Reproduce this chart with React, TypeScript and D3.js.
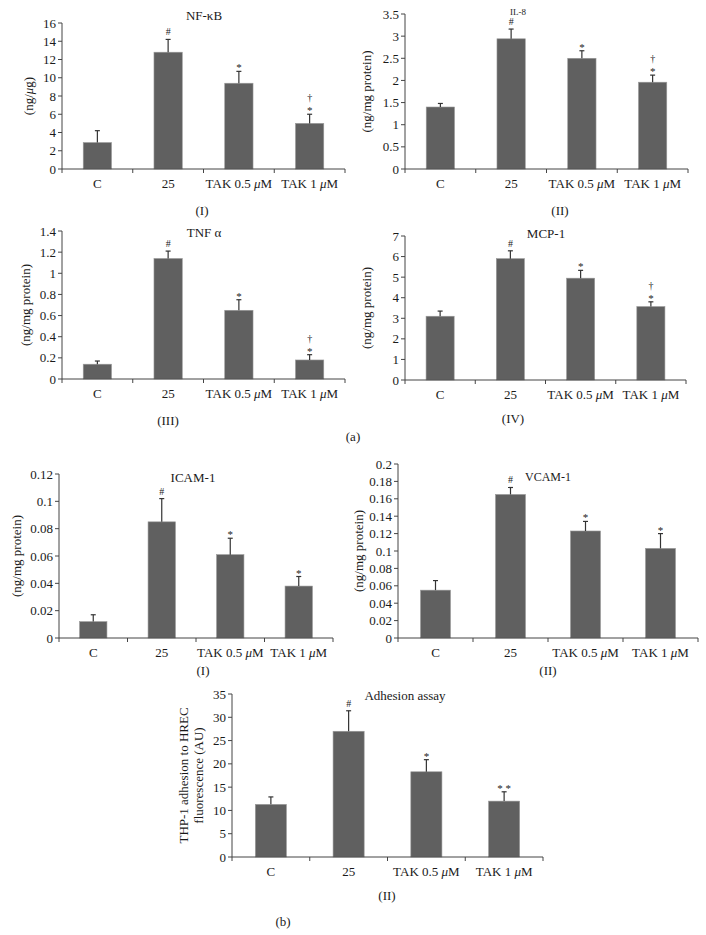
import React from "react";
import * as d3 from "d3";

const categories = ["C", "25", "TAK 0.5 μM", "TAK 1 μM"];

const nfkbMean = [2.9, 12.8, 9.4, 5.0];
const nfkbErr = [1.3, 1.4, 1.3, 1.0];
const nfkbMarks = ["", "#", "*", "†*"];

const il8Mean = [1.4, 2.94, 2.5, 1.96];
const il8Err = [0.08, 0.22, 0.17, 0.16];
const il8Marks = ["", "#", "*", "†*"];

const tnfMean = [0.14, 1.14, 0.65, 0.18];
const tnfErr = [0.03, 0.07, 0.1, 0.05];
const tnfMarks = ["", "#", "*", "†*"];

const mcpMean = [3.1, 5.9, 4.95, 3.57];
const mcpErr = [0.25, 0.38, 0.38, 0.23];
const mcpMarks = ["", "#", "*", "†*"];

const icamMean = [0.012, 0.085, 0.061, 0.038];
const icamErr = [0.005, 0.017, 0.012, 0.007];
const icamMarks = ["", "#", "*", "*"];

const vcamMean = [0.055, 0.165, 0.123, 0.103];
const vcamErr = [0.011, 0.008, 0.011, 0.017];
const vcamMarks = ["", "#", "*", "*"];

const adhMean = [11.3, 27.0, 18.3, 12.0];
const adhErr = [1.6, 4.4, 2.6, 2.0];
const adhMarks = ["", "#", "*", "**"];

const FONT = "'Liberation Serif', 'Times New Roman', serif";
const BAR = "#606060";
const INK = "#1a1a1a";
const AXIS = "#444";
const fmt = d3.format("~g");

type PanelProps = {
  left: number; top: number; right: number; bottom: number;
  yMax: number; tickCount: number;
  means: number[]; errs: number[]; marks: string[];
  title: string; titleX: number; titleY: number; titleSize?: number;
  yLabel: string[]; yLabelX: number[];
};

function MuText({ text }: { text: string }) {
  if (!text.includes("μ")) return <>{text}</>;
  const [a, b] = text.split("μ");
  return <>{a}<tspan fontStyle="italic">μ</tspan>{b}</>;
}

function Panel(p: PanelProps) {
  const x = d3.scaleBand<string>().domain(categories).range([p.left, p.right]);
  const y = d3.scaleLinear().domain([0, p.yMax]).range([p.bottom, p.top]);
  const ticks = y.ticks(p.tickCount);
  const bw = x.step() * 0.4;
  const boundaries = d3.range(categories.length + 1).map((i) => p.left + i * x.step());
  const midY = (p.top + p.bottom) / 2;
  return (
    <g>
      {categories.map((c, i) => {
        const cx = (x(c) as number) + x.bandwidth() / 2;
        const capY = y(p.means[i] + p.errs[i]);
        const m = p.marks[i];
        return (
          <g key={c}>
            <rect x={cx - bw / 2} y={y(p.means[i])} width={bw} height={p.bottom - y(p.means[i])} fill={BAR} stroke="#9a9a9a" strokeWidth={0.6} />
            <line x1={cx} x2={cx} y1={y(p.means[i])} y2={capY} stroke="#333" strokeWidth={1.2} />
            <line x1={cx - 2.5} x2={cx + 2.5} y1={capY} y2={capY} stroke="#333" strokeWidth={1.2} />
            {m === "#" && (
              <text x={cx} y={capY - 4} textAnchor="middle" fontSize={10} fontFamily={FONT} fill={INK}>#</text>
            )}
            {m === "*" && (
              <text x={cx} y={capY} textAnchor="middle" fontSize={11} fontFamily={FONT} fill={INK}>*</text>
            )}
            {m === "**" && (
              <text x={cx} y={capY} textAnchor="middle" fontSize={11} fontFamily={FONT} fill={INK}>* *</text>
            )}
            {m === "†*" && (
              <g>
                <text x={cx} y={capY} textAnchor="middle" fontSize={11} fontFamily={FONT} fill={INK}>*</text>
                <text x={cx} y={capY - 13} textAnchor="middle" fontSize={10} fontFamily={FONT} fill={INK}>†</text>
              </g>
            )}
            <text x={cx} y={p.bottom + 19} textAnchor="middle" fontSize={13} fontFamily={FONT} fill={INK}>
              <MuText text={c} />
            </text>
          </g>
        );
      })}
      <line x1={p.left} x2={p.left} y1={p.top} y2={p.bottom} stroke={AXIS} strokeWidth={1} />
      <line x1={p.left} x2={p.right} y1={p.bottom} y2={p.bottom} stroke={AXIS} strokeWidth={1} />
      {ticks.map((t) => (
        <g key={t}>
          <line x1={p.left - 4} x2={p.left} y1={y(t)} y2={y(t)} stroke={AXIS} />
          <text x={p.left - 6} y={y(t)} dy="0.35em" textAnchor="end" fontSize={13} fontFamily={FONT} fill={INK}>{fmt(t)}</text>
        </g>
      ))}
      {boundaries.map((b, i) => (
        <line key={i} x1={b} x2={b} y1={p.bottom} y2={p.bottom + 4} stroke={AXIS} />
      ))}
      <text x={p.titleX} y={p.titleY} dy="0.35em" textAnchor="middle" fontSize={p.titleSize ?? 13} fontFamily={FONT} fill={INK}>{p.title}</text>
      {p.yLabel.map((l, i) => (
        <text key={i} transform={`translate(${p.yLabelX[i]},${midY}) rotate(-90)`} textAnchor="middle" dominantBaseline="central" fontSize={13} fontFamily={FONT} fill={INK}>
          <MuText text={l} />
        </text>
      ))}
    </g>
  );
}

function Label({ x, y, t }: { x: number; y: number; t: string }) {
  return <text x={x} y={y} dy="0.35em" textAnchor="middle" fontSize={13} fontFamily={FONT} fill={INK}>{t}</text>;
}

export default function App() {
  return (
    <svg width={706} height={935} style={{ position: "absolute", left: 0, top: 0, background: "#fff" }}>
      <rect width={706} height={935} fill="#fff" />
      <Panel left={62} top={23} right={345} bottom={169} yMax={16} tickCount={8}
        means={nfkbMean} errs={nfkbErr} marks={nfkbMarks}
        title="NF-κB" titleX={204} titleY={15} yLabel={["(ng/μg)"]} yLabelX={[28]} />
      <Panel left={405} top={14} right={688} bottom={169} yMax={3.5} tickCount={7}
        means={il8Mean} errs={il8Err} marks={il8Marks}
        title="IL-8" titleX={518} titleY={12} titleSize={9} yLabel={["(ng/mg protein)"]} yLabelX={[366]} />
      <Panel left={62} top={231} right={345} bottom={379} yMax={1.4} tickCount={7}
        means={tnfMean} errs={tnfErr} marks={tnfMarks}
        title="TNF α" titleX={204} titleY={232} yLabel={["(ng/mg protein)"]} yLabelX={[25]} />
      <Panel left={405} top={236} right={686} bottom={380} yMax={7} tickCount={7}
        means={mcpMean} errs={mcpErr} marks={mcpMarks}
        title="MCP-1" titleX={546} titleY={233} yLabel={["(ng/mg protein)"]} yLabelX={[366]} />
      <Panel left={59} top={474} right={333} bottom={638} yMax={0.12} tickCount={6}
        means={icamMean} errs={icamErr} marks={icamMarks}
        title="ICAM-1" titleX={193} titleY={477} yLabel={["(ng/mg protein)"]} yLabelX={[16]} />
      <Panel left={398} top={464} right={698} bottom={638} yMax={0.2} tickCount={10}
        means={vcamMean} errs={vcamErr} marks={vcamMarks}
        title="VCAM-1" titleX={548} titleY={477} titleSize={12} yLabel={["(ng/mg protein)"]} yLabelX={[358]} />
      <Panel left={232} top={694} right={543} bottom={857} yMax={35} tickCount={7}
        means={adhMean} errs={adhErr} marks={adhMarks}
        title="Adhesion assay" titleX={405} titleY={695} yLabel={["THP-1 adhesion to HREC", "fluorescence (AU)"]} yLabelX={[183, 198]} />
      <Label x={202} y={210} t="(I)" />
      <Label x={560} y={210} t="(II)" />
      <Label x={168} y={420} t="(III)" />
      <Label x={513} y={418} t="(IV)" />
      <Label x={353} y={436} t="(a)" />
      <Label x={203} y={670} t="(I)" />
      <Label x={548} y={670} t="(II)" />
      <Label x={387} y={895} t="(II)" />
      <Label x={283} y={921} t="(b)" />
    </svg>
  );
}
